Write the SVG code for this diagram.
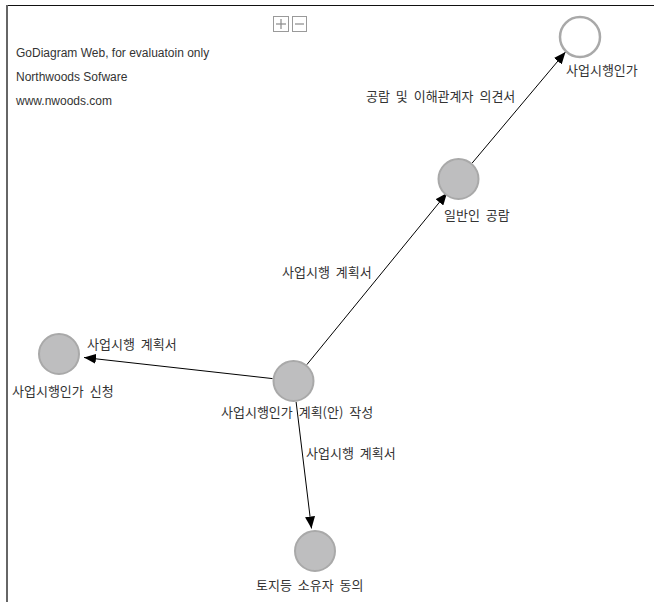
<svg xmlns="http://www.w3.org/2000/svg" width="654" height="602" viewBox="0 0 654 602">
<defs>
<style>
.node{fill:#bebebf;stroke:#a9a9a9;stroke-width:2}
.hollow{fill:#ffffff;stroke:#a9a9a9;stroke-width:2.5}
.lbl{font-family:"Noto Sans CJK KR","Liberation Sans",sans-serif;font-size:13px;fill:#333333;word-spacing:3px}
.note{font-family:"Liberation Sans",sans-serif;font-size:12px;fill:#333333}
.edge{stroke:#000000;stroke-width:1;fill:none;marker-end:url(#arr)}
.btn{fill:#ffffff;stroke:#9a9a9a;stroke-width:1}
.btnline{stroke:#8a8a8a;stroke-width:1.2}
</style>
<marker id="arr" viewBox="0 0 12 10" refX="12" refY="5" markerWidth="12" markerHeight="10" orient="auto" markerUnits="userSpaceOnUse">
<path d="M0,0 L12,5 L0,10 z" fill="#000000"/>
</marker>
</defs>
<rect x="0" y="0" width="654" height="602" fill="#ffffff"/>
<line x1="7" y1="5.5" x2="654" y2="5.5" stroke="#111111" stroke-width="1"/>
<line x1="7" y1="5" x2="7" y2="602" stroke="#666666" stroke-width="2"/>
<g id="zoom-buttons">
<rect class="btn" x="273.5" y="16.5" width="15" height="15"/>
<line class="btnline" x1="276" y1="24" x2="286" y2="24"/>
<line class="btnline" x1="281" y1="19" x2="281" y2="29"/>
<rect class="btn" x="292.5" y="16.5" width="14" height="15"/>
<line class="btnline" x1="295" y1="24" x2="304" y2="24"/>
</g>
<g id="watermark">
<text class="note" x="16" y="57">GoDiagram Web, for evaluatoin only</text>
<text class="note" x="16" y="81">Northwoods Sofware</text>
<text class="note" x="16" y="105">www.nwoods.com</text>
</g>
<g id="connectors">
<line class="edge" x1="306.8" y1="364.7" x2="447" y2="193"/>
<line class="edge" x1="472.2" y1="163" x2="565.5" y2="52"/>
<line class="edge" x1="272.6" y1="378.6" x2="84" y2="357.5"/>
<line class="edge" x1="296.1" y1="401.8" x2="311.5" y2="528.5"/>
<text class="lbl" x="282" y="277">사업시행 계획서</text>
<text class="lbl" x="366" y="101">공람 및 이해관계자 의견서</text>
<text class="lbl" x="87" y="348.5">사업시행 계획서</text>
<text class="lbl" x="306" y="457.5">사업시행 계획서</text>
</g>
<g id="node-approval">
<circle class="hollow" cx="580" cy="37" r="20"/>
<text class="lbl" x="566" y="75">사업시행인가</text>
</g>
<g id="node-public">
<circle class="node" cx="458.5" cy="179" r="20"/>
<text class="lbl" x="444" y="220">일반인 공람</text>
</g>
<g id="node-apply">
<circle class="node" cx="59" cy="354" r="20"/>
<text class="lbl" x="12" y="396">사업시행인가 신청</text>
</g>
<g id="node-plan">
<circle class="node" cx="293.5" cy="381" r="20"/>
<text class="lbl" x="221" y="416.5">사업시행인가 계획(안) 작성</text>
</g>
<g id="node-consent">
<circle class="node" cx="315" cy="551" r="20"/>
<text class="lbl" x="256" y="590">토지등 소유자 동의</text>
</g>
</svg>
